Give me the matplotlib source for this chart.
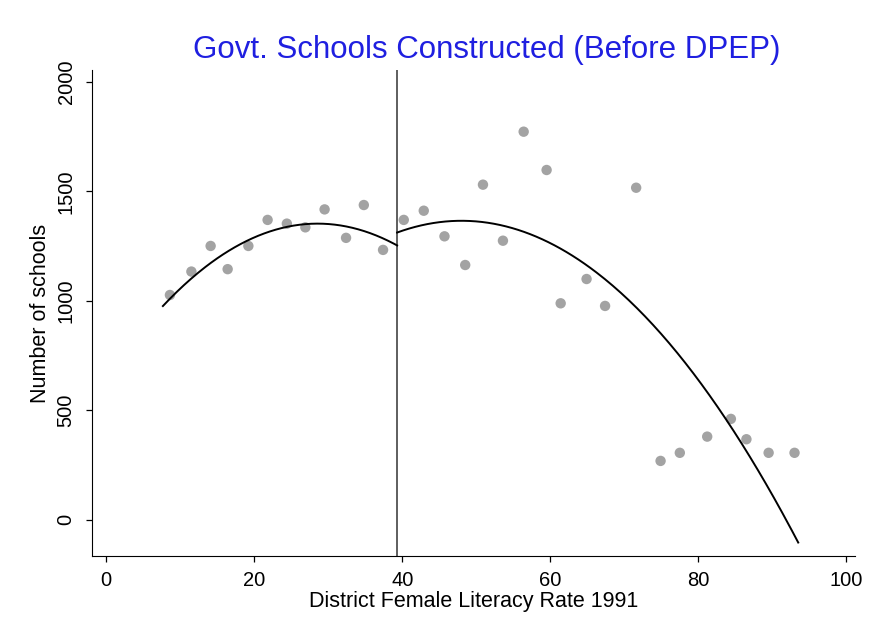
import matplotlib
matplotlib.use('Agg')
import matplotlib.pyplot as plt
import numpy as np

plt.rcParams['font.family'] = ['Liberation Sans', 'DejaVu Sans']

# binned means, left of the DPEP cutoff
lit_left = [8.6, 11.5, 14.1, 16.4, 19.2, 21.8, 24.4, 26.9, 29.5, 32.4, 34.8, 37.4]
schools_left = [1027, 1134, 1251, 1145, 1251, 1370, 1353, 1336, 1418, 1288, 1438, 1233]

# binned means, right of the cutoff
lit_right = [40.2, 42.9, 45.7, 48.5, 50.9, 53.6, 56.4, 59.5, 61.4, 64.9, 67.4, 71.6,
             74.9, 77.5, 81.2, 84.4, 86.5, 89.5, 93.0]
schools_right = [1370, 1412, 1295, 1164, 1531, 1275, 1773, 1598, 989, 1100, 977, 1517,
                 269, 306, 380, 461, 368, 306, 306]

cutoff = 39.3

# quadratic fits (estimated on district data): vertex x, vertex y, curvature, x range
fit_left = (28.55, 1353, 0.862, 7.65, cutoff)
fit_right = (48.0, 1366, 0.71, cutoff, 93.5)

fig = plt.figure(figsize=(8.7, 6.38), dpi=100)
ax = fig.add_axes([0.106, 0.129, 0.877, 0.761])

ax.scatter(lit_left + lit_right, schools_left + schools_right,
           s=56, color='#a3a3a3', edgecolors='none', zorder=2)

for vx, vy, k, x0, x1 in [fit_left, fit_right]:
    xx = np.linspace(x0, x1, 200)
    ax.plot(xx, vy - k * (xx - vx) ** 2, color='black', lw=1.4, zorder=3)

ax.axvline(cutoff, color='#333333', lw=1.1)

ax.set_xlim(-1.9, 101.2)
ax.set_ylim(-164, 2054)
ax.set_xticks([0, 20, 40, 60, 80, 100])
ax.set_yticks([0, 500, 1000, 1500, 2000])
ax.spines['top'].set_visible(False)
ax.spines['right'].set_visible(False)
ax.tick_params(labelsize=14.5, length=4, width=0.9)
ax.tick_params(axis='x', pad=7)
ax.tick_params(axis='y', pad=8)
for lbl in ax.get_yticklabels():
    lbl.set_rotation(90)
    lbl.set_va('center')

ax.set_xlabel('District Female Literacy Rate 1991', fontsize=15.5, labelpad=1)
ax.set_ylabel('Number of schools', fontsize=15.5, labelpad=4)
fig.text(0.56, 0.909, 'Govt. Schools Constructed (Before DPEP)', color='#1f1fe0',
         fontsize=22.5, ha='center', va='baseline')

fig.savefig('out.png', dpi=100)
